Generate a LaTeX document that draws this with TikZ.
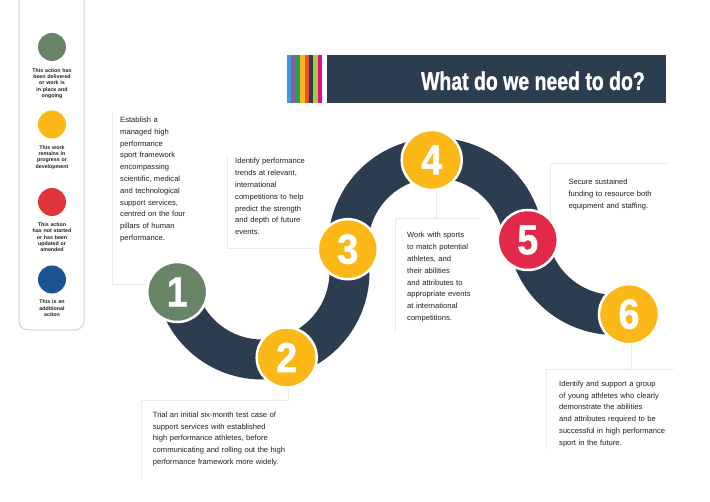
\documentclass[tikz,border=0pt]{standalone}
\usepackage{fontspec}
\setmainfont{Liberation Sans}
\newfontfamily\heavyfont[FakeBold=1.2]{Liberation Sans}
\definecolor{navy}{HTML}{2C3D4F}
\definecolor{cyel}{HTML}{FBB817}
\definecolor{cgreen}{HTML}{6A8467}
\definecolor{cred}{HTML}{E2294A}
\definecolor{lred}{HTML}{E0353B}
\definecolor{cblue}{HTML}{1B5490}
\definecolor{txt}{HTML}{231F20}
\definecolor{sA}{HTML}{3D9BD6}
\definecolor{sB}{HTML}{8C5AA6}
\definecolor{sC}{HTML}{1FA64F}
\definecolor{sD}{HTML}{F6B81C}
\definecolor{sE}{HTML}{EF4E2F}
\definecolor{sF}{HTML}{2C3E50}
\definecolor{sG}{HTML}{A5CD3A}
\definecolor{sH}{HTML}{EA0A8C}
\begin{document}
\begin{tikzpicture}[x=1pt,y=1pt,
  faint/.style={draw=black!8, line width=0.9pt},
  band/.style={draw=navy, line width=40pt, line cap=butt},
  numdot/.style={circle, draw=white, line width=2.5pt, minimum size=60pt, inner sep=0pt,
     text=white, font=\heavyfont\bfseries\fontsize{42}{42}\selectfont},
  legdot/.style={circle, minimum size=28pt, inner sep=0pt},
  legtxt/.style={anchor=base, align=center, text width=60pt, inner sep=0pt, text=txt,
     font=\bfseries\fontsize{5.3}{6.3}\selectfont},
  bodytxt/.style={anchor=base west, align=left, text width=160pt, inner sep=0pt, text=txt,
     font=\fontsize{7.6}{11.8}\selectfont}]
\clip (0,0) rectangle (710,-502);
\useasboundingbox (0,0) rectangle (710,-502);
\fill[white] (0,0) rectangle (710,-502);

% legend panel
\draw[draw=black!18, line width=1pt, rounded corners=9pt] (19,12) rectangle (84,-330);
\node[legdot, fill=cgreen] (l1) at (52,-47) {};
\node[legdot, fill=cyel] (l2) at (52,-124.5) {};
\node[legdot, fill=lred] (l3) at (52,-202) {};
\node[legdot, fill=cblue] (l4) at (52,-279.5) {};
\node[legtxt] (lt1) at (52,-72.3) {This action has\\been delivered\\or work is\\in place and\\ongoing};
\node[legtxt] (lt2) at (52,-149.3) {This work\\remains in\\progress or\\development};
\node[legtxt] (lt3) at (52,-226.7) {This action\\has not started\\or has been\\updated or\\amended};
\node[legtxt] (lt4) at (52,-304) {This is an\\additional\\action};

% title banner
\foreach \c [count=\i from 0] in {sA,sB,sC,sD,sE,sF,sG,sH}
  \fill[\c] ({286.7+\i*4.45},-55) rectangle ({286.7+(\i+1)*4.45},-102.7);
\fill[navy] (326.5,-55) rectangle (665.7,-102.7);
\node[anchor=base east, inner sep=0pt, text=white, font=\heavyfont\bfseries\fontsize{25.6}{25.6}\selectfont] (title) at (645,-90)
  {\scalebox{0.76}[1]{What do we need to do?}};

% circles (positions)
\coordinate (p1) at (177.2,-292);
\coordinate (p2) at (286.7,-357.5);
\coordinate (p3) at (347.8,-249.2);
\coordinate (p4) at (431.7,-160);
\coordinate (p5) at (527.8,-240);
\coordinate (p6) at (629,-314.2);

% faint connector lines
\coordinate (k1a) at (112,-113);
\coordinate (k1b) at (112,-284);
\draw[faint] (k1a) -- (k1b) -- (k1b -| p1);
\coordinate (k3a) at (227,-155);
\coordinate (k3b) at (227,-248);
\draw[faint] (k3a) -- (k3b) -- (k3b -| p3);
\coordinate (k4a) at (395,-333);
\coordinate (k4b) at (395,-218);
\coordinate (k4c) at (480,-218);
\coordinate (k4d) at (436.7,-218);
\draw[faint] (k4a) -- (k4b) -- (k4c);
\draw[faint] (k4d) -- (436.7,-180);
\coordinate (k5a) at (550,-163);
\coordinate (k5b) at (668,-163);
\draw[faint] (k5b) -- (k5a) -- (550,-222);
\coordinate (k6a) at (546,-450);
\coordinate (k6b) at (546,-369);
\coordinate (k6c) at (674,-369);
\draw[faint] (k6a) -- (k6b) -- (k6c);
\draw[faint] (631,-369) -- (631,-330);
\coordinate (k2a) at (141,-479);
\coordinate (k2b) at (141,-400);
\coordinate (k2c) at (288,-400);
\draw[faint] (k2a) -- (k2b) -- (k2c) -- (288,-375);

% snake band
\draw[band] plot[domain=193.9:375.1, samples=90] ({262+87.5*cos(\x)}, {-272+87.5*sin(\x)});
\draw[band] plot[domain=3.7:181.9, samples=90] ({436+88*cos(\x)}, {-246+88*sin(\x)});
\draw[band] plot[domain=188.5:279.1, samples=60] ({615+88*cos(\x)}, {-227+88*sin(\x)});

% numbered circles
\node[numdot, fill=cgreen] (c1) at (p1) {\scalebox{0.9}[1]{1}};
\node[numdot, fill=cyel] (c2) at (p2) {\scalebox{0.9}[1]{2}};
\node[numdot, fill=cyel] (c3) at (p3) {\scalebox{0.9}[1]{3}};
\node[numdot, fill=cyel] (c4) at (p4) {\scalebox{0.9}[1]{4}};
\node[numdot, fill=cred] (c5) at (p5) {\scalebox{0.9}[1]{5}};
\node[numdot, fill=cyel] (c6) at (p6) {\scalebox{0.9}[1]{6}};

% texts
\node[bodytxt] (t1) at (120,-122.5) {Establish a\\managed high\\performance\\sport framework\\encompassing\\scientific, medical\\and technological\\support services,\\centred on the four\\pillars of human\\performance.};
\node[bodytxt] (t3) at (235,-164) {Identify performance\\trends at relevant,\\international\\competitions to help\\predict the strength\\and depth of future\\events.};
\node[bodytxt] (t4) at (407,-238) {Work with sports\\to match potential\\athletes, and\\their abilities\\and attributes to\\appropriate events\\at international\\competitions.};
\node[bodytxt] (t5) at (568.3,-185) {Secure sustained\\funding to resource both\\equipment and staffing.};
\node[bodytxt] (t6) at (559,-386.3) {Identify and support a group\\of young athletes who clearly\\demonstrate the abilities\\and attributes required to be\\successful in high performance\\sport in the future.};
\node[bodytxt] (t2) at (152.7,-417.3) {Trial an initial six-month test case of\\support services with established\\high performance athletes, before\\communicating and rolling out the high\\performance framework more widely.};
\end{tikzpicture}
\end{document}
